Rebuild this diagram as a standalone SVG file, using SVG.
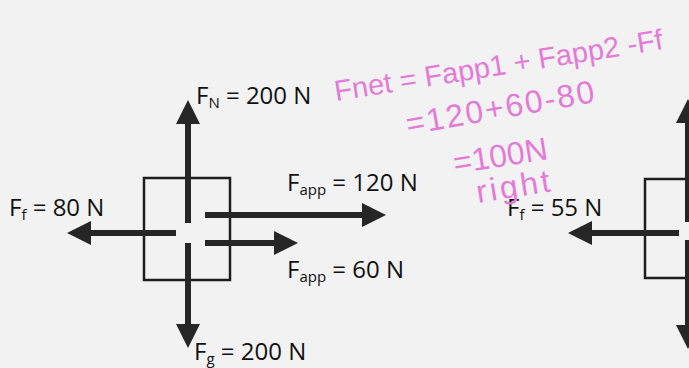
<svg xmlns="http://www.w3.org/2000/svg" width="689" height="368" viewBox="0 0 689 368">
<style>
.bg{fill:#f2f2f2}
.box{fill:none;stroke:#1e1e1e;stroke-width:2.5}
.shaft{stroke:#262626;stroke-width:6;fill:none}
.lbl{font-family:"Open Sans","Liberation Sans",sans-serif;font-size:24px;fill:#111}
.sub{font-size:15px}
.hand{font-family:"Liberation Sans","DejaVu Sans",sans-serif;font-size:32px;fill:#e47ad8}
</style>
<defs>
<marker id="head" markerUnits="userSpaceOnUse" markerWidth="24" markerHeight="24" viewBox="0 0 24 24" refX="1" refY="12" orient="auto">
<path d="M0,0 L24,12 L0,24 Z" fill="#262626"/>
</marker>
</defs>
<rect class="bg" x="0" y="0" width="689" height="368"/>

<g id="box-left"><rect class="box" x="144" y="178" width="86" height="102"/></g>
<g id="box-right"><rect class="box" x="645" y="179" width="60" height="99"/></g>

<g id="connectors">
<line class="shaft" x1="188" y1="223" x2="188" y2="123" marker-end="url(#head)"/>
<line class="shaft" x1="188" y1="243" x2="188" y2="325" marker-end="url(#head)"/>
<line class="shaft" x1="176" y1="233" x2="90" y2="233" marker-end="url(#head)"/>
<line class="shaft" x1="205" y1="215" x2="363" y2="215" marker-end="url(#head)"/>
<line class="shaft" x1="205" y1="243" x2="275" y2="243" marker-end="url(#head)"/>
<line class="shaft" x1="679" y1="233" x2="591" y2="233" marker-end="url(#head)"/>
<line class="shaft" x1="688" y1="222" x2="688" y2="122" marker-end="url(#head)"/>
<line class="shaft" x1="688" y1="240" x2="688" y2="326" marker-end="url(#head)"/>
</g>

<g id="label-fn"><text class="lbl" x="196" y="104">F<tspan class="sub" dy="4">N</tspan><tspan dy="-4"> = 200 N</tspan></text></g>
<g id="label-ff80"><text class="lbl" x="9" y="216">F<tspan class="sub" dy="4">f</tspan><tspan dy="-4"> = 80 N</tspan></text></g>
<g id="label-fapp120"><text class="lbl" x="287" y="191">F<tspan class="sub" dy="4">app</tspan><tspan dy="-4"> = 120 N</tspan></text></g>
<g id="label-fapp60"><text class="lbl" x="287" y="278">F<tspan class="sub" dy="4">app</tspan><tspan dy="-4"> = 60 N</tspan></text></g>
<g id="label-fg"><text class="lbl" x="194" y="360">F<tspan class="sub" dy="4">g</tspan><tspan dy="-4"> = 200 N</tspan></text></g>
<g id="label-ff55"><text class="lbl" x="507" y="216">F<tspan class="sub" dy="4">f</tspan><tspan dy="-4"> = 55 N</tspan></text></g>

<g id="handwritten">
<text class="hand" transform="translate(336,101) rotate(-9)" style="font-size:29px">Fnet = Fapp1 + Fapp2 -Ff</text>
<text class="hand" transform="translate(408,135) rotate(-10)" letter-spacing="2">=120+60-80</text>
<text class="hand" transform="translate(455,174) rotate(-9)">=100N</text>
<text class="hand" transform="translate(478,203) rotate(-9)" letter-spacing="3">right</text>
</g>
</svg>
